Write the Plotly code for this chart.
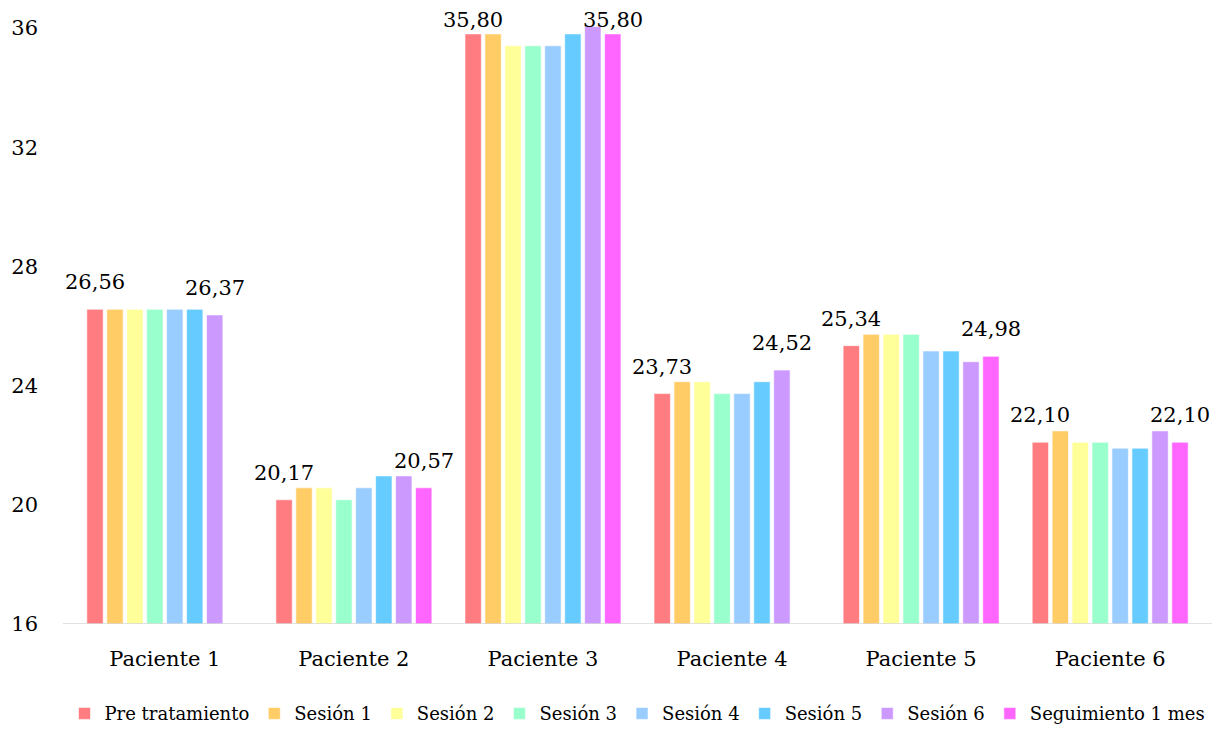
import plotly.graph_objects as go

pacientes = ["Paciente 1", "Paciente 2", "Paciente 3", "Paciente 4", "Paciente 5", "Paciente 6"]

series_names = ["Pre tratamiento", "Sesión 1", "Sesión 2", "Sesión 3",
                "Sesión 4", "Sesión 5", "Sesión 6", "Seguimiento 1 mes"]

pre_tratamiento = [26.56, 20.17, 35.80, 23.73, 25.34, 22.10]
sesion_1 = [26.56, 20.57, 35.80, 24.13, 25.72, 22.48]
sesion_2 = [26.56, 20.57, 35.40, 24.13, 25.72, 22.10]
sesion_3 = [26.56, 20.17, 35.40, 23.73, 25.72, 22.10]
sesion_4 = [26.56, 20.57, 35.40, 23.73, 25.16, 21.90]
sesion_5 = [26.56, 20.97, 35.80, 24.13, 25.16, 21.90]
sesion_6 = [26.37, 20.97, 36.05, 24.52, 24.80, 22.48]
seguimiento_1_mes = [None, 20.57, 35.80, None, 24.98, 22.10]

y_ticks = [16, 20, 24, 28, 32, 36]

all_series = [pre_tratamiento, sesion_1, sesion_2, sesion_3,
              sesion_4, sesion_5, sesion_6, seguimiento_1_mes]

colors = ["#FF7C80", "#FFCC66", "#FFFF99", "#99FFCC",
          "#99CCFF", "#66CCFF", "#CC99FF", "#FF66FF"]

FONT = "DejaVu Serif"
BARGAP = 0.156

fig = go.Figure()
for name, vals, col in zip(series_names, all_series, colors):
    fig.add_trace(go.Bar(
        name=name, x=pacientes, y=vals,
        marker=dict(color=col, line=dict(color="rgba(255,255,255,0.6)", width=1)),
    ))


def fmt(v):
    return f"{v:.2f}".replace(".", ",")


# value labels on the first and the last available bar of each patient
n = len(all_series)
slot = (1 - BARGAP) / n
annotations = []
for ci in range(len(pacientes)):
    present = [si for si in range(n) if all_series[si][ci] is not None]
    for si in (present[0], present[-1]):
        v = all_series[si][ci]
        offset = -(1 - BARGAP) / 2 + slot * (si + 0.5)
        annotations.append(dict(
            x=ci + offset, y=v, xref="x", yref="y",
            text=fmt(v), showarrow=False,
            yshift=14 if v > 35 else 27,
            font=dict(family=FONT, size=21, color="#000000"),
        ))

# category axis baseline, spanning the plot width only
baseline = dict(type="line", xref="paper", x0=0, x1=1, yref="y",
                y0=y_ticks[0], y1=y_ticks[0],
                line=dict(color="#D9D9D9", width=1.5), layer="above")

fig.update_layout(
    width=1226, height=729,
    barmode="group", bargap=BARGAP, bargroupgap=0.18,
    plot_bgcolor="white", paper_bgcolor="white",
    margin=dict(l=63, r=14, t=19, b=105, autoexpand=False),
    font=dict(family=FONT, size=20, color="#000000"),
    annotations=annotations,
    shapes=[baseline],
    legend=dict(
        orientation="h", x=0.5, xanchor="center",
        yref="container", y=0.021, yanchor="middle",
        font=dict(family=FONT, size=18, color="#000000"),
        itemwidth=30, traceorder="normal",
    ),
    xaxis=dict(
        type="category", showline=False,
        ticks="", ticklabelstandoff=20,
        tickfont=dict(family=FONT, size=21, color="#000000"),
        showgrid=False,
    ),
    yaxis=dict(
        range=[16, 36.3], tickvals=y_ticks, showgrid=False, zeroline=False,
        showline=False, ticks="", ticklabelstandoff=24,
        tickfont=dict(family=FONT, size=21, color="#000000"),
    ),
)

fig.write_html("out.html")
